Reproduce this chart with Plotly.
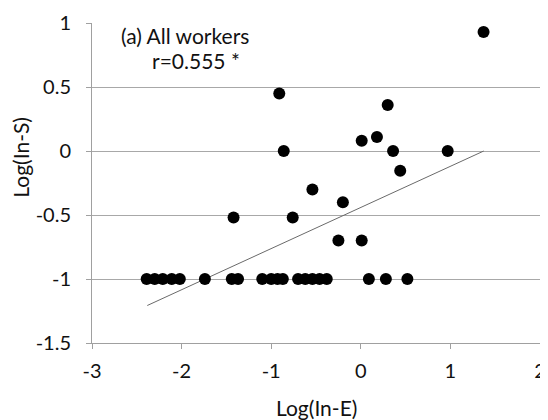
import plotly.graph_objects as go

# Scatter data: Log(In-E) vs Log(In-S)
x_vals = [-2.39, -2.30, -2.21, -2.11, -2.02, -1.74, -1.44, -1.37,
          -1.10, -1.00, -0.93, -0.87, -0.70, -0.62, -0.54, -0.46, -0.38,
          0.09, 0.28, 0.52,
          -0.91, -0.86, -0.54, -0.20, 1.37, 0.30, 0.01, 0.18, 0.36, 0.97,
          0.44, -1.42, -0.76, -0.25, 0.01]
y_vals = [-1, -1, -1, -1, -1, -1, -1, -1,
          -1, -1, -1, -1, -1, -1, -1, -1, -1,
          -1, -1, -1,
          0.45, 0.0, -0.30, -0.40, 0.93, 0.36, 0.08, 0.11, 0.0, 0.0,
          -0.155, -0.52, -0.52, -0.70, -0.70]

# Trend line endpoints
trend_x = [-2.383, 1.372]
trend_y = [-1.207, 0.0]

x_ticks = [-3, -2, -1, 0, 1, 2]
y_ticks = [-1.5, -1, -0.5, 0, 0.5, 1]

font_family = "Lato, 'Open Sans', sans-serif"

fig = go.Figure()
fig.add_trace(go.Scatter(x=trend_x, y=trend_y, mode="lines",
                         line=dict(color="#6a6a6a", width=1), hoverinfo="skip",
                         showlegend=False))
fig.add_trace(go.Scatter(x=x_vals, y=y_vals, mode="markers",
                         marker=dict(color="black", size=12, line=dict(width=0)),
                         showlegend=False))

fig.update_layout(
    width=540, height=412,
    margin=dict(l=84, r=2, t=12, b=77),
    paper_bgcolor="white", plot_bgcolor="white",
    font=dict(family=font_family, size=20, color="#111"),
    xaxis=dict(range=[-3, 2], tickvals=x_ticks, ticktext=[str(v) for v in x_ticks],
               showgrid=False, zeroline=False, showline=True, linecolor="#a0a0a0",
               linewidth=1, ticks="outside", ticklen=5, tickcolor="#a0a0a0",
               ticklabelstandoff=5, ticklabeloverflow="allow",
               tickfont=dict(size=20)),
    yaxis=dict(range=[-1.5, 1], tickvals=y_ticks, ticktext=[str(v) for v in y_ticks],
               showgrid=True, gridcolor="#a8a8a8", gridwidth=1, zeroline=False,
               showline=True, linecolor="#a0a0a0", linewidth=1, ticks="outside",
               ticklen=5, tickcolor="#a0a0a0", ticklabelstandoff=11,
               ticklabeloverflow="allow", tickfont=dict(size=20)),
    annotations=[
        dict(text="Log(In-E)", xref="paper", yref="paper", x=0.5, y=-0.201,
             xanchor="center", yanchor="middle", showarrow=False, font=dict(size=21)),
        dict(text="Log(In-S)", xref="paper", yref="paper", x=-0.1586, y=0.582,
             xanchor="center", yanchor="middle", textangle=-90, showarrow=False,
             font=dict(size=21)),
        dict(text="(a) All workers", xref="paper", yref="paper", x=0.0595, y=0.96,
             xanchor="left", yanchor="middle", showarrow=False, font=dict(size=21)),
        dict(text="r=0.555 *", xref="paper", yref="paper", x=0.130, y=0.882,
             xanchor="left", yanchor="middle", showarrow=False, font=dict(size=21)),
    ],
)

fig.write_html("out.html")
